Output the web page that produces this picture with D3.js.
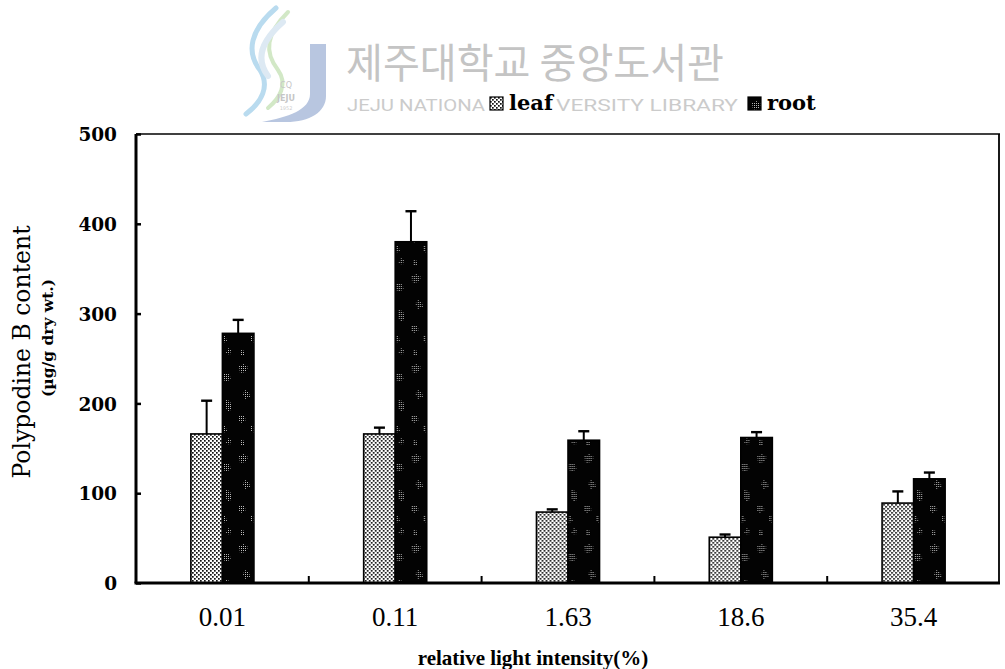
<!DOCTYPE html>
<html>
<head>
<meta charset="utf-8">
<script src="https://cdn.jsdelivr.net/npm/d3@7/dist/d3.min.js"></script>
<style>
  html, body { margin: 0; padding: 0; background: #fff; }
  svg { display: block; }
</style>
</head>
<body>
<svg id="chart" width="1005" height="669"></svg>
<script>
// Light intensity treatments (%) and the two tissues measured
const categories = ["0.01", "0.11", "1.63", "18.6", "35.4"];
const seriesNames = ["leaf", "root"];

// Polypodine B content (µg/g dry wt.) and standard deviation
const leafValues = [166, 166, 79, 51, 89];
const leafErrors = [37, 7, 3, 3, 13];
const rootValues = [278, 380, 159, 162, 116];
const rootErrors = [15, 34, 10, 6, 7];

const yTicks = [0, 100, 200, 300, 400, 500];

const svg = d3.select("#chart");
const W = 1005, H = 669;
const margin = { left: 136, right: 5, top: 134, bottom: 86 };
const plotRight = W - margin.right;
const plotBottom = H - margin.bottom;

// ---------- fill patterns ----------
const defs = svg.append("defs");

// fine dot screen for the leaf bars
const leafPat = defs.append("pattern")
  .attr("id", "leafFill").attr("patternUnits", "userSpaceOnUse")
  .attr("width", 4).attr("height", 4);
leafPat.append("rect").attr("width", 4).attr("height", 4).attr("fill", "#fff");
leafPat.append("rect").attr("x", 0).attr("y", 0).attr("width", 1.7).attr("height", 1.7).attr("fill", "#111");
leafPat.append("rect").attr("x", 2).attr("y", 2).attr("width", 1.7).attr("height", 1.7).attr("fill", "#111");

// halftone used for the grey mottling inside the root bars
const chk = defs.append("pattern")
  .attr("id", "checker").attr("patternUnits", "userSpaceOnUse")
  .attr("width", 2).attr("height", 2);
chk.append("rect").attr("width", 2).attr("height", 2).attr("fill", "#000");
chk.append("rect").attr("x", 0).attr("y", 0).attr("width", 1).attr("height", 1).attr("fill", "#bbb");

// dark mottled fill for the root bars
const rootPat = defs.append("pattern")
  .attr("id", "rootFill").attr("patternUnits", "userSpaceOnUse")
  .attr("width", 33).attr("height", 90);
rootPat.append("rect").attr("width", 33).attr("height", 90).attr("fill", "#030303");
const blobs = [
  "M4,6 l5,-2 l4,3 l-2,5 l-6,1 z",
  "M20,14 l6,-1 l3,5 l-4,4 l-5,-3 z",
  "M10,30 l4,2 l1,5 l-5,2 l-2,-5 z",
  "M24,40 l4,1 l2,7 l-3,4 l-4,-5 z",
  "M3,56 l6,0 l2,4 l-5,3 l-3,-3 z",
  "M16,66 l7,-1 l2,6 l-6,3 l-4,-4 z",
  "M26,78 l3,2 l-1,5 l-4,-2 z",
  "M6,80 l4,1 l0,4 l-4,0 z"
];
rootPat.selectAll("path").data(blobs).join("path")
  .attr("d", d => d)
  .attr("fill", "url(#checker)");

// ---------- library watermark ----------
const wm = svg.append("g").attr("class", "watermark");
wm.append("path")
  .attr("d", "M276,8 C250,30 246,52 260,70 C270,86 262,102 246,114")
  .attr("fill", "none").attr("stroke", "#b9dbef").attr("stroke-width", 5).attr("stroke-linecap", "round");
wm.append("path")
  .attr("d", "M288,12 C266,34 264,52 278,70 C288,84 280,98 268,108")
  .attr("fill", "none").attr("stroke", "#d2e8c6").attr("stroke-width", 4).attr("stroke-linecap", "round");
wm.append("path")
  .attr("d", "M283,22 C260,42 256,60 268,76")
  .attr("fill", "none").attr("stroke", "#dde9f3").attr("stroke-width", 6).attr("stroke-linecap", "round");
wm.append("path")
  .attr("d", "M310,44 L326,44 L326,96 C326,112 310,122 286,122 L262,122 C288,117 310,110 310,94 Z")
  .attr("fill", "#b8c6e0");
wm.append("text").attr("x", 286).attr("y", 88).attr("text-anchor", "middle")
  .attr("font-family", "DejaVu Sans").attr("font-size", 8).attr("fill", "#c6c6c6").text("CQ");
wm.append("text").attr("x", 286).attr("y", 101).attr("text-anchor", "middle")
  .attr("font-family", "DejaVu Sans").attr("font-weight", "bold").attr("font-size", 8).attr("fill", "#c6c6c6").text("JEJU");
wm.append("text").attr("x", 286).attr("y", 110).attr("text-anchor", "middle")
  .attr("font-family", "DejaVu Sans").attr("font-size", 5).attr("fill", "#cfcfcf").text("1952");
wm.append("text").attr("x", 346).attr("y", 78)
  .attr("font-family", "Noto Sans CJK KR").attr("font-size", 41).attr("fill", "#c4c4c4")
  .attr("textLength", 378).attr("lengthAdjust", "spacingAndGlyphs")
  .text("제주대학교 중앙도서관");
// English line, interrupted where the "leaf" legend entry sits on top of it
wm.append("text").attr("x", 347).attr("y", 111)
  .attr("font-family", "Roboto").attr("font-size", 16).attr("fill", "#cbcbcb")
  .attr("textLength", 138).attr("lengthAdjust", "spacingAndGlyphs")
  .text("JEJU NATIONA");
wm.append("text").attr("x", 556).attr("y", 111)
  .attr("font-family", "Roboto").attr("font-size", 16).attr("fill", "#cbcbcb")
  .attr("textLength", 182).attr("lengthAdjust", "spacingAndGlyphs")
  .text("VERSITY  LIBRARY");

// ---------- scales ----------
const x = d3.scaleBand().domain(categories).range([margin.left, plotRight]).paddingInner(0).paddingOuter(0);
const xSub = d3.scaleBand().domain(seriesNames).range([0, x.bandwidth()]).paddingInner(0).paddingOuter(1.74);
const y = d3.scaleLinear().domain([0, 500]).range([plotBottom, margin.top]);

const rows = categories.map((c, i) => ({
  cat: c,
  bars: [
    { s: "leaf", v: leafValues[i], e: leafErrors[i] },
    { s: "root", v: rootValues[i], e: rootErrors[i] }
  ]
}));

// ---------- bars ----------
const groups = svg.append("g").selectAll("g").data(rows).join("g")
  .attr("transform", d => `translate(${x(d.cat)},0)`);

groups.selectAll("rect").data(d => d.bars).join("rect")
  .attr("x", d => xSub(d.s))
  .attr("y", d => y(d.v))
  .attr("width", xSub.bandwidth())
  .attr("height", d => y(0) - y(d.v))
  .attr("fill", d => d.s === "leaf" ? "url(#leafFill)" : "url(#rootFill)")
  .attr("stroke", "#000").attr("stroke-width", 1.6);

// error bars (upper whisker only)
const err = groups.selectAll("g.err").data(d => d.bars).join("g").attr("class", "err");
err.append("line")
  .attr("x1", d => xSub(d.s) + xSub.bandwidth() / 2)
  .attr("x2", d => xSub(d.s) + xSub.bandwidth() / 2)
  .attr("y1", d => y(d.v)).attr("y2", d => y(d.v + d.e))
  .attr("stroke", "#000").attr("stroke-width", 2);
err.append("line")
  .attr("x1", d => xSub(d.s) + xSub.bandwidth() / 2 - 5.5)
  .attr("x2", d => xSub(d.s) + xSub.bandwidth() / 2 + 5.5)
  .attr("y1", d => y(d.v + d.e)).attr("y2", d => y(d.v + d.e))
  .attr("stroke", "#000").attr("stroke-width", 2.4);

// ---------- frame ----------
svg.append("line").attr("x1", margin.left).attr("x2", plotRight)
  .attr("y1", margin.top).attr("y2", margin.top)
  .attr("stroke", "#000").attr("stroke-width", 1.4);
svg.append("line").attr("x1", plotRight - 1).attr("x2", plotRight - 1)
  .attr("y1", margin.top).attr("y2", plotBottom)
  .attr("stroke", "#000").attr("stroke-width", 1.8);

// ---------- y axis ----------
const yAxis = svg.append("g").attr("transform", `translate(${margin.left},0)`)
  .call(d3.axisLeft(y).tickValues(yTicks).tickSize(-5).tickPadding(19).tickFormat(d3.format("d")));
yAxis.select(".domain").attr("stroke-width", 3).attr("d", `M0,${margin.top}V${plotBottom}`);
yAxis.selectAll(".tick line").attr("stroke-width", 2.5);
yAxis.selectAll(".tick text")
  .attr("font-family", "DejaVu Serif").attr("font-weight", "bold").attr("font-size", 18.5)
  .attr("fill", "#000").attr("dy", "0.36em");

// ---------- x axis ----------
const xAxis = svg.append("g").attr("transform", `translate(0,${plotBottom})`)
  .call(d3.axisBottom(x).tickSize(0).tickPadding(24));
xAxis.select(".domain").attr("stroke-width", 3.2)
  .attr("d", `M${margin.left - 1.5},0H${plotRight}`);
xAxis.selectAll(".tick text")
  .attr("font-family", "Liberation Serif").attr("font-size", 27).attr("fill", "#000");

// small inward ticks between the treatment groups
svg.append("g").selectAll("line").data(categories.slice(1)).join("line")
  .attr("x1", d => x(d)).attr("x2", d => x(d))
  .attr("y1", plotBottom).attr("y2", plotBottom - 7)
  .attr("stroke", "#000").attr("stroke-width", 2);

// ---------- axis titles ----------
svg.append("text")
  .attr("x", (margin.left + plotRight) / 2 - 35).attr("y", 665)
  .attr("text-anchor", "middle")
  .attr("font-family", "Liberation Serif").attr("font-weight", "bold").attr("font-size", 21)
  .text("relative light intensity(%)");

svg.append("text")
  .attr("transform", "translate(30,352) rotate(-90)")
  .attr("text-anchor", "middle")
  .attr("font-family", "DejaVu Serif").attr("font-size", 23.5)
  .text("Polypodine B content");
svg.append("text")
  .attr("transform", "translate(53,338) rotate(-90)")
  .attr("text-anchor", "middle")
  .attr("font-family", "DejaVu Serif").attr("font-weight", "bold").attr("font-size", 15.5)
  .text("(µg/g dry wt.)");

// ---------- legend ----------
const legendItems = [
  { s: "leaf", fill: "url(#leafFill)", x: 490 },
  { s: "root", fill: "url(#rootFill)", x: 748 }
];
const lg = svg.append("g").selectAll("g").data(legendItems).join("g")
  .attr("transform", d => `translate(${d.x},97)`);
lg.append("rect").attr("width", 13).attr("height", 13)
  .attr("fill", d => d.fill).attr("stroke", "#000").attr("stroke-width", 1.2);
lg.append("text").attr("x", 19).attr("y", 13)
  .attr("font-family", "DejaVu Serif").attr("font-weight", "bold").attr("font-size", 21)
  .text(d => d.s);
</script>
</body>
</html>
